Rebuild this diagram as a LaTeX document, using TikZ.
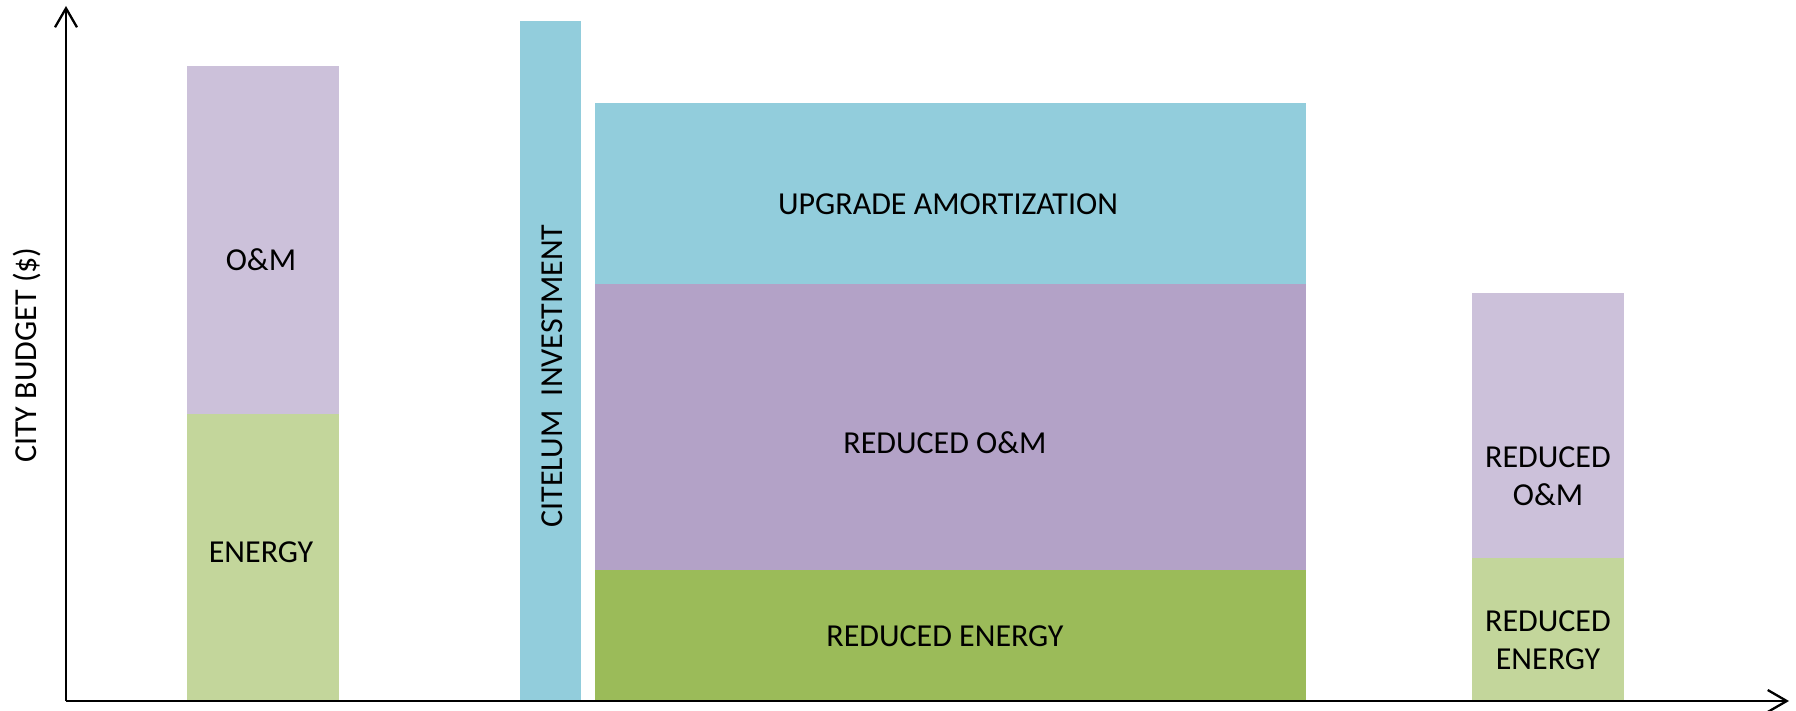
\documentclass[tikz,border=0pt]{standalone}
\usepackage{fontspec}
\setmainfont{Carlito}
\usetikzlibrary{arrows.meta}
\definecolor{omlight}{HTML}{CCC1DA}
\definecolor{enlight}{HTML}{C3D69B}
\definecolor{invblue}{HTML}{92CDDC}
\definecolor{omdark}{HTML}{B3A2C7}
\definecolor{endark}{HTML}{9BBB59}
\tikzset{
  lbl/.style={inner sep=0pt, anchor=base, font=\fontsize{32}{38}\selectfont, text=black},
  lbl2/.style={inner sep=0pt, anchor=center, align=center, font=\fontsize{32}{38}\selectfont, text=black},
  axis/.style={line width=2.3pt, black, -{Straight Barb[length=19pt,width=22pt]}}
}
\begin{document}
\begin{tikzpicture}[x=1pt,y=-1pt]
\useasboundingbox (0,0) rectangle (1796,711);
% bar 1
\fill[omlight] (187,66) rectangle (339,414);
\fill[enlight] (187,414) rectangle (339,701);
% citelum investment
\fill[invblue] (520,21) rectangle (581,701);
% big block
\fill[invblue] (595,103) rectangle (1306,284);
\fill[omdark] (595,284) rectangle (1306,570);
\fill[endark] (595,570) rectangle (1306,702);
% bar 3
\fill[omlight] (1472,293) rectangle (1624,558);
\fill[enlight] (1472,558) rectangle (1624,701);
% axes
\coordinate (origin) at (66,701);
\coordinate (ytop) at (66,6);
\coordinate (xend) at (1789,701);
\draw[axis] (origin) -- (ytop);
\draw[axis] (origin) -- (xend);
% labels
\node[lbl] (om) at (261,271) {O\&M};
\node[lbl] (en) at (261,562) {ENERGY};
\node[lbl, rotate=90] (inv) at (562,376) {CITELUM\ \ INVESTMENT};
\node[lbl, rotate=90] (ylab) at (36,355) {CITY BUDGET (\$)};
\node[lbl] (upg) at (948,215) {UPGRADE AMORTIZATION};
\node[lbl] (rom) at (945,453) {REDUCED O\&M};
\node[lbl] (ren) at (945,646) {REDUCED ENERGY};
\node[lbl2] (rom3) at (1548,476) {REDUCED\\O\&M};
\node[lbl2] (ren3) at (1548,640) {REDUCED\\ENERGY};
\end{tikzpicture}
\end{document}
